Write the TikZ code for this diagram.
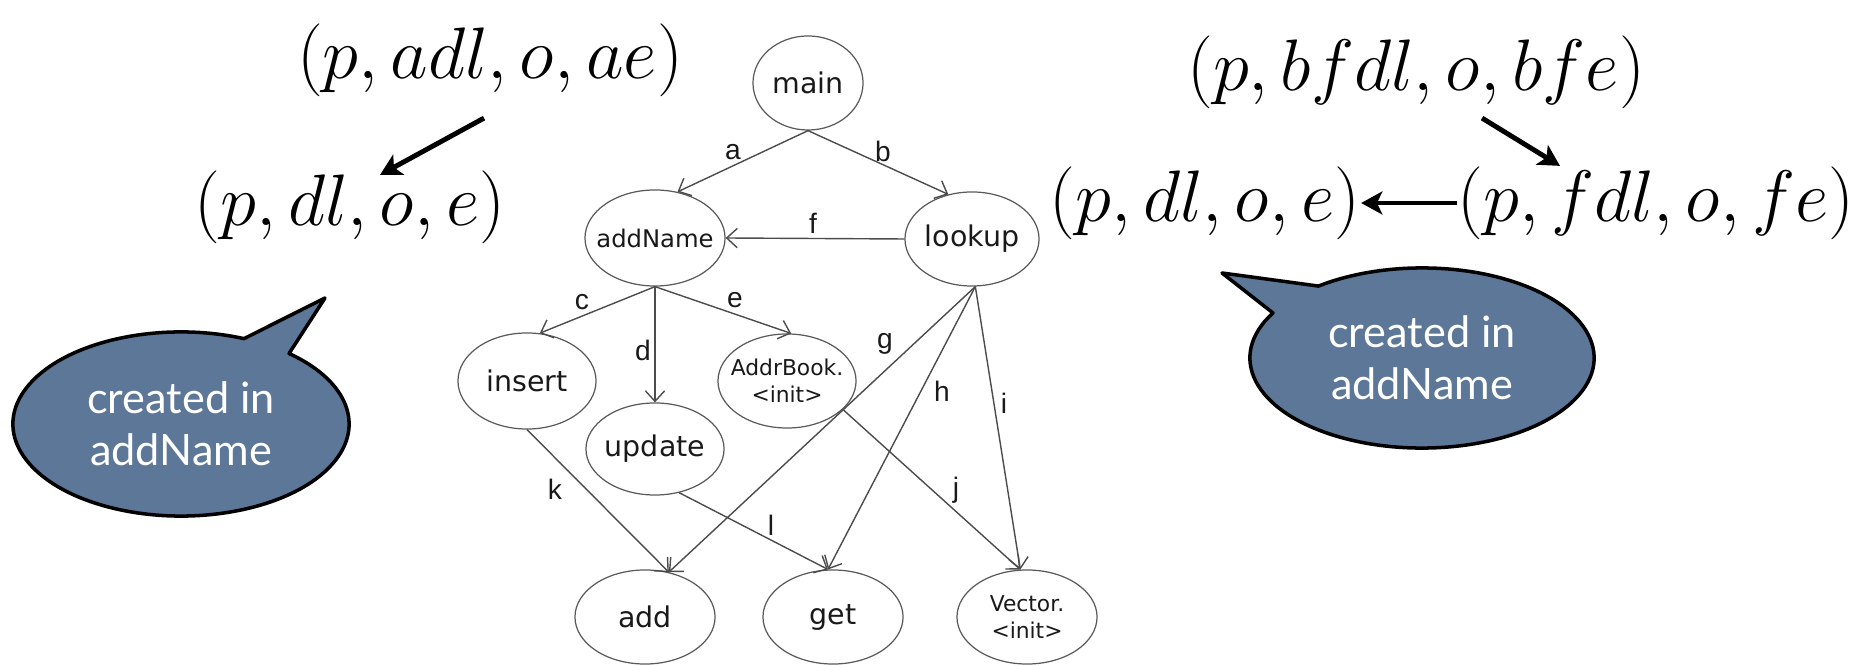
\documentclass[tikz,border=0pt]{standalone}
\usepackage{amsmath}
\usepackage{fontspec}
\newfontfamily\graphfont{DejaVu Sans}
\newfontfamily\labelfont{Liberation Sans}
\newfontfamily\notefont{Lato}
\usetikzlibrary{shapes.geometric,arrows.meta}

\definecolor{notefill}{RGB}{92,119,151}
\definecolor{fnline}{RGB}{90,90,90}
\newcommand{\fname}[1]{\makebox[0pt]{#1}}

\tikzset{
  fn/.style={ellipse, draw=fnline, line width=0.35pt, inner sep=0pt,
    minimum width=1.38cm, minimum height=0.94cm, text=black!90,
    font=\graphfont\fontsize{8.1}{9}\selectfont},
  small/.style={font=\graphfont\fontsize{6.2}{7}\selectfont},
  call/.style={draw=black!70, line width=0.4pt,
    -{Straight Barb[length=3pt,width=5.5pt]}},
  elab/.style={inner sep=0pt, text=black!90,
    font=\labelfont\fontsize{8}{9}\selectfont},
  tuple/.style={inner sep=0pt, font=\fontsize{20.3}{24}\selectfont},
  bigarrow/.style={line width=1.4pt, -{Stealth[length=6pt,width=6.5pt,inset=1.5pt]}},
  bubble/.style={fill=notefill, draw=black, line width=1pt, line join=round},
  btext/.style={text=white, align=center,
    font=\notefont\fontsize{12.3}{14.8}\selectfont}
}

\begin{document}
\begin{tikzpicture}[x=0.01cm, y=0.01cm]
  \useasboundingbox (0,0) rectangle (1874,664);

  % call graph
  \node[fn, minimum width=1.1cm] (main) at (808,581) {\fname{main}};
  \node[fn, minimum width=1.4cm, minimum height=0.96cm,
    font=\graphfont\fontsize{6.9}{8}\selectfont] (addName) at (655,426) {\fname{addName}};
  \node[fn, minimum width=1.34cm] (lookup) at (972,425) {\fname{lookup}};
  \node[fn, minimum height=0.96cm] (insert) at (527,283) {\fname{insert}};
  \node[fn, minimum height=0.92cm] (update) at (655,215) {\fname{update}};
  \node[fn, small] (addrbook) at (787,283) {\fname{\shortstack{AddrBook.\\<init>}}};
  \node[fn, minimum width=1.4cm] (add) at (645,47) {\fname{add}};
  \node[fn, minimum width=1.4cm] (get) at (833,47) {\fname{get}};
  \node[fn, small, minimum width=1.4cm] (vector) at (1027,47) {\fname{\shortstack{Vector.\\<init>}}};

  % call edges
  \draw[call] (main.south) -- (addName.64);
  \draw[call] (main.south) -- (lookup.118);
  \draw[call] (lookup.west) -- (addName.east);
  \draw[call] (addName.south) -- (insert.75);
  \draw[call] (addName.south) -- (update.north);
  \draw[call] (addName.south) -- (addrbook.85);
  \draw[call] (lookup.-86) -- (add.62);
  \draw[call] (lookup.-86) -- (get.96);
  \draw[call] (lookup.-86) -- (vector.98);
  \draw[call] (addrbook.-27) -- (vector.98);
  \draw[call] (insert.south) -- (add.62);
  \draw[call] (update.-61) -- (get.96);

  % edge names
  \node[elab] (la) at (733,512) {a};
  \node[elab] (lb) at (883,513) {b};
  \node[elab] (lf) at (813,441) {f};
  \node[elab] (lc) at (582,362) {c};
  \node[elab] (le) at (735,364) {e};
  \node[elab] (ld) at (643,314) {d};
  \node[elab] (lg) at (885,320) {g};
  \node[elab] (lh) at (942,273) {h};
  \node[elab] (li) at (1004,261) {i};
  \node[elab] (lj) at (956,174) {j};
  \node[elab] (lk) at (555,175) {k};
  \node[elab] (ll) at (771,139) {l};

  % path tuples, left
  \node[tuple] (adl) at (490,604) {$(p, adl, o, ae)$};
  \node[tuple] (dl) at (350,457) {$(p, dl, o, e)$};
  \draw[bigarrow] ([xshift=-0.06cm,yshift=-0.21cm]adl.south) -- ([xshift=0.3cm,yshift=-0.05cm]dl.north);

  % path tuples, right
  \node[tuple] (bfdl) at (1416,592) {$(p, bfdl, o, bfe)$};
  \node[tuple] (fdl) at (1656,461) {$(p, fdl, o, fe)$};
  \node[tuple] (dl2) at (1205,461) {$(p, dl, o, e)$};
  \draw[bigarrow] ([xshift=0.66cm,yshift=-0.09cm]bfdl.south) -- ([xshift=-0.96cm]fdl.north);
  \draw[bigarrow] (fdl.west) -- (dl2.east);

  % speech bubbles
  \coordinate (lnote) at (181,240);
  \coordinate (ltip) at (325,366);
  \draw[bubble] (ltip) -- ([shift={(68:1.68cm and 0.92cm)}]lnote)
    arc[start angle=68, end angle=410, x radius=1.68cm, y radius=0.92cm] -- cycle;
  \node[btext] (ltext) at (lnote) {created in\\addName};

  \coordinate (rnote) at (1422,306);
  \coordinate (rtip) at (1222,391);
  \draw[bubble] (rtip) -- ([shift={(150:1.72cm and 0.9cm)}]rnote)
    arc[start angle=150, end angle=487, x radius=1.72cm, y radius=0.9cm] -- cycle;
  \node[btext] (rtext) at (rnote) {created in\\addName};
\end{tikzpicture}
\end{document}
